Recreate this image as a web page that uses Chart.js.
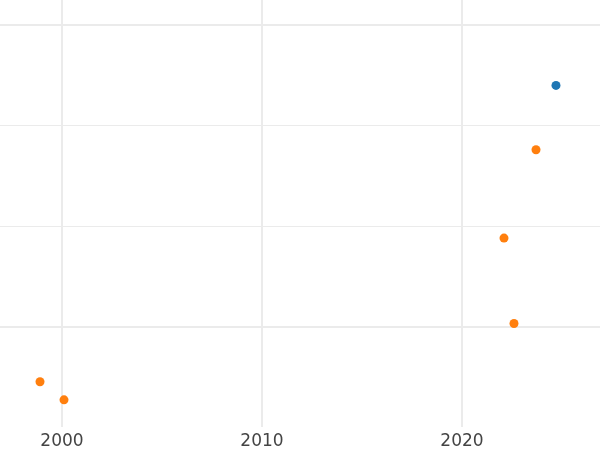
<!DOCTYPE html>
<html>
<head>
<meta charset="utf-8">
<script src="https://cdn.jsdelivr.net/npm/chart.js@4/dist/chart.umd.min.js"></script>
<style>
  html, body { margin: 0; padding: 0; background: #fff; }
  #wrap { width: 600px; height: 450px; }
</style>
</head>
<body>
<div id="wrap"><canvas id="chart"></canvas></div>
<script>
// data
const blueYears = [2024.7];
const blueValues = [2.4];
const orangeYears = [2023.7, 2022.1, 2022.6, 1998.9, 2000.1];
const orangeValues = [1.76, 0.88, 0.03, -0.55, -0.73];
const xTicks = [2000, 2010, 2020];
const yTicks = [0, 1, 2, 3];

const toPoints = (xs, ys) => xs.map((x, i) => ({ x, y: ys[i] }));
const gridColor = "#ebebeb";

new Chart(document.getElementById("chart"), {
  type: "scatter",
  data: {
    datasets: [
      {
        data: toPoints(orangeYears, orangeValues),
        backgroundColor: "#ff7f0e",
        borderWidth: 0,
        pointRadius: 4.5
      },
      {
        data: toPoints(blueYears, blueValues),
        backgroundColor: "#1f77b4",
        borderWidth: 0,
        pointRadius: 4.5
      }
    ]
  },
  options: {
    responsive: true,
    maintainAspectRatio: false,
    animation: false,
    layout: { padding: 0, autoPadding: false },
    plugins: {
      legend: { display: false },
      tooltip: { enabled: false }
    },
    scales: {
      x: {
        type: "linear",
        min: 1996.9,
        max: 2026.9,
        afterBuildTicks: axis => {
          axis.ticks = xTicks.map(v => ({ value: v }));
        },
        afterFit: axis => {
          axis.height = 23;
        },
        border: { display: false },
        grid: { color: gridColor, lineWidth: 2, drawTicks: false },
        ticks: {
          padding: 4,
          color: "#444444",
          font: { family: "DejaVu Sans", size: 17 },
          callback: v => String(v)
        }
      },
      y: {
        min: -1,
        max: 3.25,
        afterBuildTicks: axis => {
          axis.ticks = yTicks.map(v => ({ value: v }));
        },
        border: { display: false },
        grid: {
          color: gridColor,
          drawTicks: false,
          lineWidth: ctx => (ctx.tick && (ctx.tick.value === 0 || ctx.tick.value === 3)) ? 2 : 1
        },
        ticks: { display: false }
      }
    }
  }
});
</script>
</body>
</html>
